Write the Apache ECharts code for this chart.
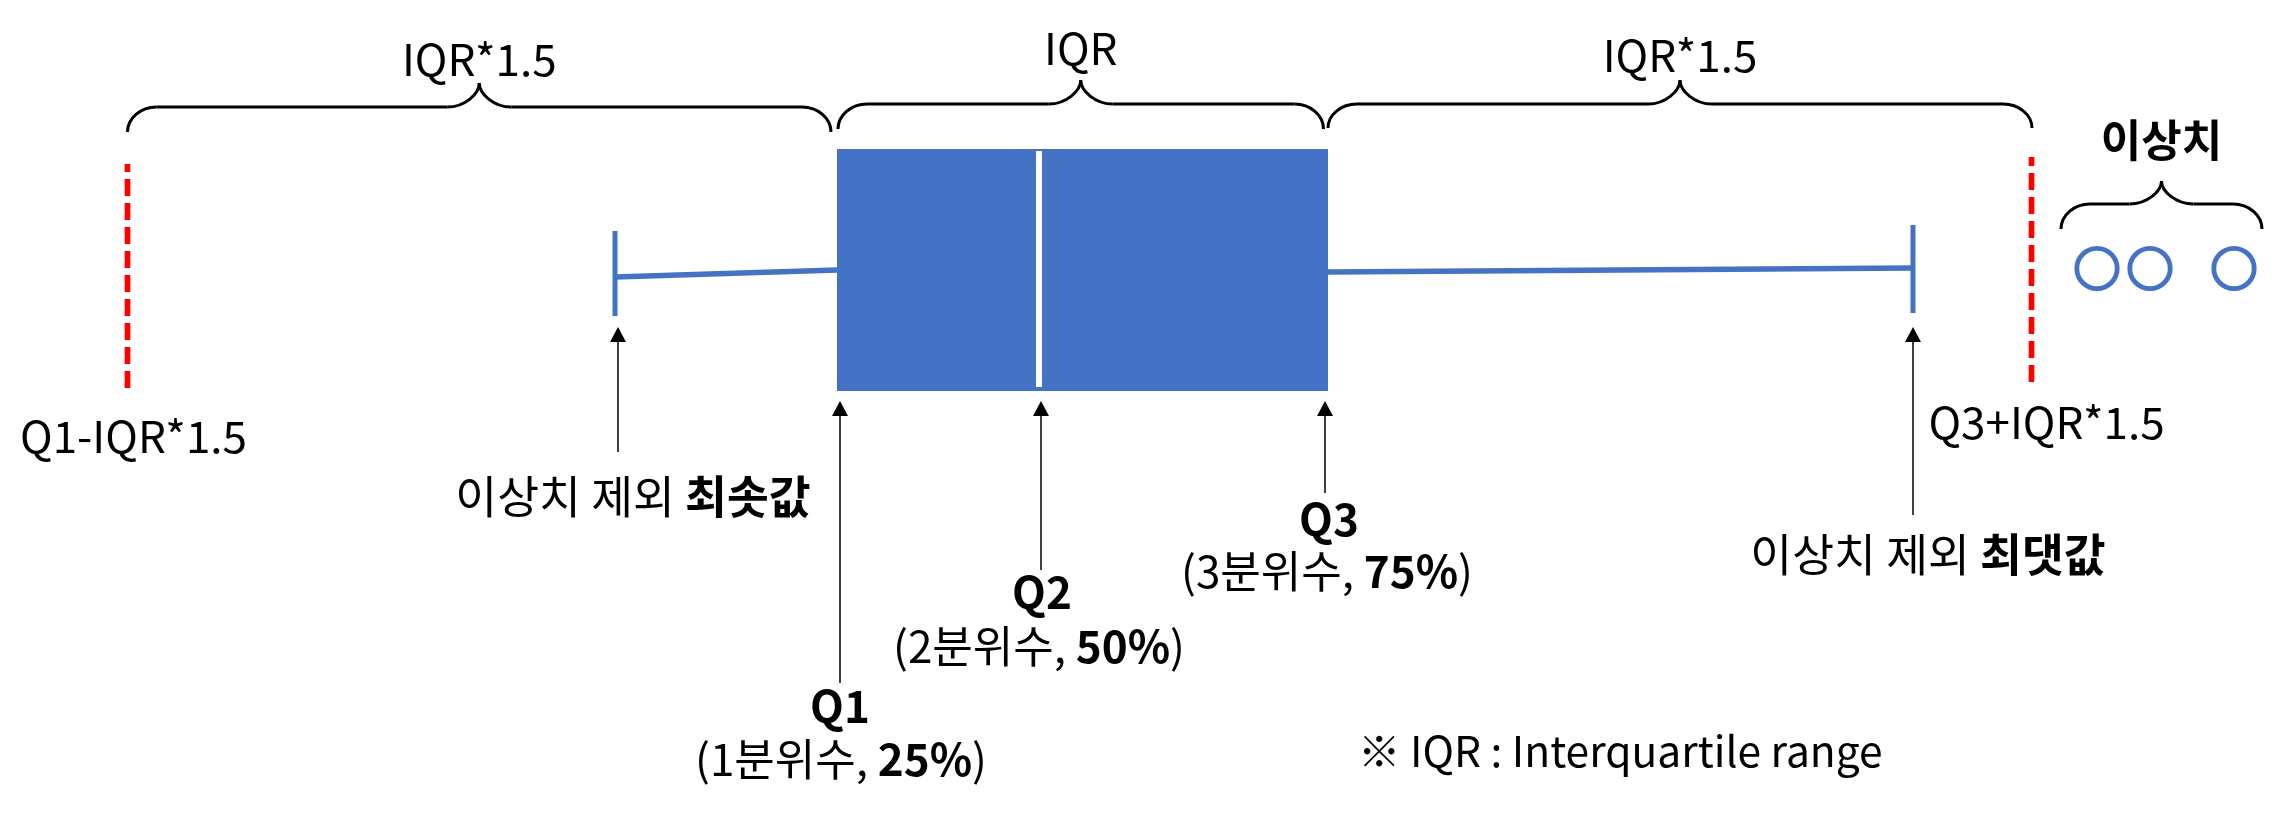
<!DOCTYPE html>
<html>
<head>
<meta charset="utf-8">
<script src="https://cdn.jsdelivr.net/npm/echarts@6/dist/echarts.min.js"></script>
<style>
html,body{margin:0;padding:0;background:#ffffff;}
#chart{width:2288px;height:815px;}
</style>
</head>
<body>
<div id="chart"></div>
<script>
// ---------------- DATA (axis units) ----------------
const categories = ['분포'];
// [이상치 제외 최솟값, Q1, Q2(중앙값), Q3, 이상치 제외 최댓값]
const boxStats = [61.5, 83.7, 103.9, 132.8, 191.3];
// [Q1-IQR*1.5, Q3+IQR*1.5]
const fences = [12.75, 203.15];
const outliers = [209.7, 215.0, 223.4];
const fenceLabels = ['Q1-IQR*1.5', 'Q3+IQR*1.5'];
const braceLabels = ['IQR*1.5', 'IQR', 'IQR*1.5', '이상치'];
const pointerTitles = ['', 'Q1', 'Q2', 'Q3', ''];
const pointerSubs = ['이상치 제외 {b|최솟값}', '(1분위수, {b|25%})', '(2분위수, {b|50%})', '(3분위수, {b|75%})', '이상치 제외 {b|최댓값}'];
const footnote = '※ IQR : Interquartile range';

// ---------------- STYLE / LAYOUT ----------------
const BLUE = '#4472C4';
const RED = '#FF0000';
const FONT = "'Noto Sans CJK KR', 'Noto Sans', sans-serif";
const FS = 44;

// brace spans built from the data, with small pixel paddings
const braceSpans = [
  [fences[0], boxStats[1]],
  [boxStats[1], boxStats[3]],
  [boxStats[3], fences[1]],
  [outliers[0], outliers[outliers.length - 1]]
];
const braceLayout = [
  {pad0: 0, pad1: -6, yt: 83, yh: 107, ye: 132, labelY: 59, bold: false},
  {pad0: 1, pad1: -4.5, yt: 80, yh: 104, ye: 129, labelY: 48.5, bold: false},
  {pad0: 0, pad1: 0.5, yt: 80, yh: 104, ye: 128, labelY: 55.5, bold: false},
  {pad0: -36, pad1: 28, yt: 181, yh: 204, ye: 229, labelY: 140.5, bold: true}
];
const fenceLayout = [
  {top: 164, bottom: 388, labelDx: 6, labelY: 436},
  {top: 157, bottom: 382, labelDx: 15, labelY: 422}
];
const pointerLayout = [
  {arrowDx: 3, tip: 327, tail: 452, titleDx: 0, titleY: 0, subDx: 18, subY: 497, fs: 45.5},
  {arrowDx: 3, tip: 401, tail: 683, titleDx: 3, titleY: 706, subDx: 4, subY: 759, fs: FS},
  {arrowDx: 2, tip: 401, tail: 570, titleDx: 3, titleY: 592.5, subDx: 0, subY: 646, fs: FS},
  {arrowDx: -3, tip: 401, tail: 493, titleDx: 1, titleY: 519, subDx: -1, subY: 571, fs: FS},
  {arrowDx: 0, tip: 327, tail: 515, titleDx: 0, titleY: 0, subDx: 15, subY: 555, fs: 45.5}
];

function textEl(text, x, y, opt) {
  opt = opt || {};
  const fs = opt.fs || FS;
  return {
    type: 'text',
    style: {
      text: text, x: x, y: y,
      align: opt.align || 'center', verticalAlign: 'middle',
      fontSize: fs, fontFamily: FONT, fontWeight: opt.bold ? 'bold' : 'normal',
      fill: '#000',
      rich: {b: {fontSize: fs, fontFamily: FONT, fontWeight: 'bold', fill: '#000'}}
    }
  };
}

function braceEls(x0, x1, yt, yh, ye) {
  const xm = (x0 + x1) / 2, rx = 29, tx = 32;
  const st = {stroke: '#000', lineWidth: 3, fill: 'none'};
  const ry = ye - yh, ty = yh - yt;
  return [
    {type: 'bezierCurve', shape: {x1: x0, y1: ye, cpx1: x0, cpy1: ye - 0.55 * ry, cpx2: x0 + 0.45 * rx, cpy2: yh, x2: x0 + rx, y2: yh}, style: st},
    {type: 'line', shape: {x1: x0 + rx, y1: yh, x2: xm - tx, y2: yh}, style: st},
    {type: 'bezierCurve', shape: {x1: xm - tx, y1: yh, cpx1: xm - 0.45 * tx, cpy1: yh, cpx2: xm, cpy2: yh - 0.55 * ty, x2: xm, y2: yt}, style: st},
    {type: 'bezierCurve', shape: {x1: xm, y1: yt, cpx1: xm, cpy1: yh - 0.55 * ty, cpx2: xm + 0.45 * tx, cpy2: yh, x2: xm + tx, y2: yh}, style: st},
    {type: 'line', shape: {x1: xm + tx, y1: yh, x2: x1 - rx, y2: yh}, style: st},
    {type: 'bezierCurve', shape: {x1: x1 - rx, y1: yh, cpx1: x1 - 0.45 * rx, cpy1: yh, cpx2: x1, cpy2: ye - 0.55 * ry, x2: x1, y2: ye}, style: st}
  ];
}

const chart = echarts.init(document.getElementById('chart'), null, {renderer: 'canvas'});

const option = {
  animation: false,
  backgroundColor: '#ffffff',
  grid: {left: 0, right: 0, top: 149, height: 242, containLabel: false},
  xAxis: {type: 'value', min: 0, max: 228.8, show: false},
  yAxis: {type: 'category', data: categories, show: false},
  graphic: [{
    type: 'text', left: 1358, top: 730, silent: true,
    style: {text: footnote, fontSize: 42.5, fontFamily: FONT, fill: '#000'}
  }],
  series: [
    {
      name: 'box', type: 'custom', silent: true, clip: false,
      encode: {y: 0, x: [1, 2, 3, 4, 5]},
      data: [[categories[0]].concat(boxStats)],
      renderItem: function (params, api) {
        const cy = api.coord([0, 0])[1];
        const band = api.size([0, 1])[1];
        const px = i => api.coord([api.value(i), 0])[0];
        const pMin = px(1), pQ1 = px(2), pMed = px(3), pQ3 = px(4), pMax = px(5);
        const top = cy - band / 2;
        return {type: 'group', children: [
          {type: 'line', shape: {x1: pMin, y1: cy + 7, x2: pQ1, y2: cy}, style: {stroke: BLUE, lineWidth: 5.5}},
          {type: 'line', shape: {x1: pQ3, y1: cy + 2, x2: pMax, y2: cy - 2}, style: {stroke: BLUE, lineWidth: 5.5}},
          {type: 'line', shape: {x1: pMin, y1: cy + 3.5 - 42.5, x2: pMin, y2: cy + 3.5 + 42.5}, style: {stroke: BLUE, lineWidth: 5}},
          {type: 'line', shape: {x1: pMax, y1: cy - 1 - 44, x2: pMax, y2: cy - 1 + 44}, style: {stroke: BLUE, lineWidth: 5}},
          {type: 'rect', shape: {x: pQ1, y: top, width: pQ3 - pQ1, height: band}, style: {fill: BLUE}},
          {type: 'line', shape: {x1: pMed, y1: top + 2, x2: pMed, y2: top + band - 4}, style: {stroke: '#ffffff', lineWidth: 6}}
        ]};
      }
    },
    {
      name: '이상치', type: 'custom', silent: true, clip: false,
      data: outliers.map(v => [v, categories[0]]),
      renderItem: function (params, api) {
        const p = api.coord([api.value(0), 0]);
        return {type: 'circle', shape: {cx: p[0], cy: p[1] - 1.5, r: 20.2},
                style: {fill: 'none', stroke: BLUE, lineWidth: 4.8}};
      }
    },
    {
      name: 'fences', type: 'custom', silent: true, clip: false,
      data: fences.map(v => [v, categories[0]]),
      renderItem: function (params, api) {
        const L = fenceLayout[params.dataIndex];
        const x = api.coord([api.value(0), 0])[0];
        return {type: 'group', children: [
          {type: 'line', shape: {x1: x, y1: L.bottom, x2: x, y2: L.top}, style: {stroke: RED, lineWidth: 5.7, lineDash: [17, 7]}},
          textEl(fenceLabels[params.dataIndex], x + L.labelDx, L.labelY)
        ]};
      }
    },
    {
      name: 'braces', type: 'custom', silent: true, clip: false,
      encode: {x: [0, 1], y: 2},
      data: braceSpans.map(s => [s[0], s[1], categories[0]]),
      renderItem: function (params, api) {
        const L = braceLayout[params.dataIndex];
        const x0 = api.coord([api.value(0), 0])[0] + L.pad0;
        const x1 = api.coord([api.value(1), 0])[0] + L.pad1;
        const kids = braceEls(x0, x1, L.yt, L.yh, L.ye);
        kids.push(textEl(braceLabels[params.dataIndex], (x0 + x1) / 2, L.labelY, {bold: L.bold}));
        return {type: 'group', children: kids};
      }
    },
    {
      name: 'pointers', type: 'custom', silent: true, clip: false,
      data: boxStats.map(v => [v, categories[0]]),
      renderItem: function (params, api) {
        const i = params.dataIndex;
        const L = pointerLayout[i];
        const x = api.coord([api.value(0), 0])[0];
        const ax = x + L.arrowDx;
        const kids = [
          {type: 'line', shape: {x1: ax, y1: L.tail, x2: ax, y2: L.tip + 10}, style: {stroke: '#000', lineWidth: 1.5}},
          {type: 'polygon', shape: {points: [[ax, L.tip], [ax - 8, L.tip + 15], [ax + 8, L.tip + 15]]}, style: {fill: '#000'}}
        ];
        if (pointerTitles[i]) kids.push(textEl(pointerTitles[i], x + L.titleDx, L.titleY, {bold: true}));
        kids.push(textEl(pointerSubs[i], x + L.subDx, L.subY, {fs: L.fs}));
        return {type: 'group', children: kids};
      }
    }
  ]
};
chart.setOption(option);
</script>
</body>
</html>
